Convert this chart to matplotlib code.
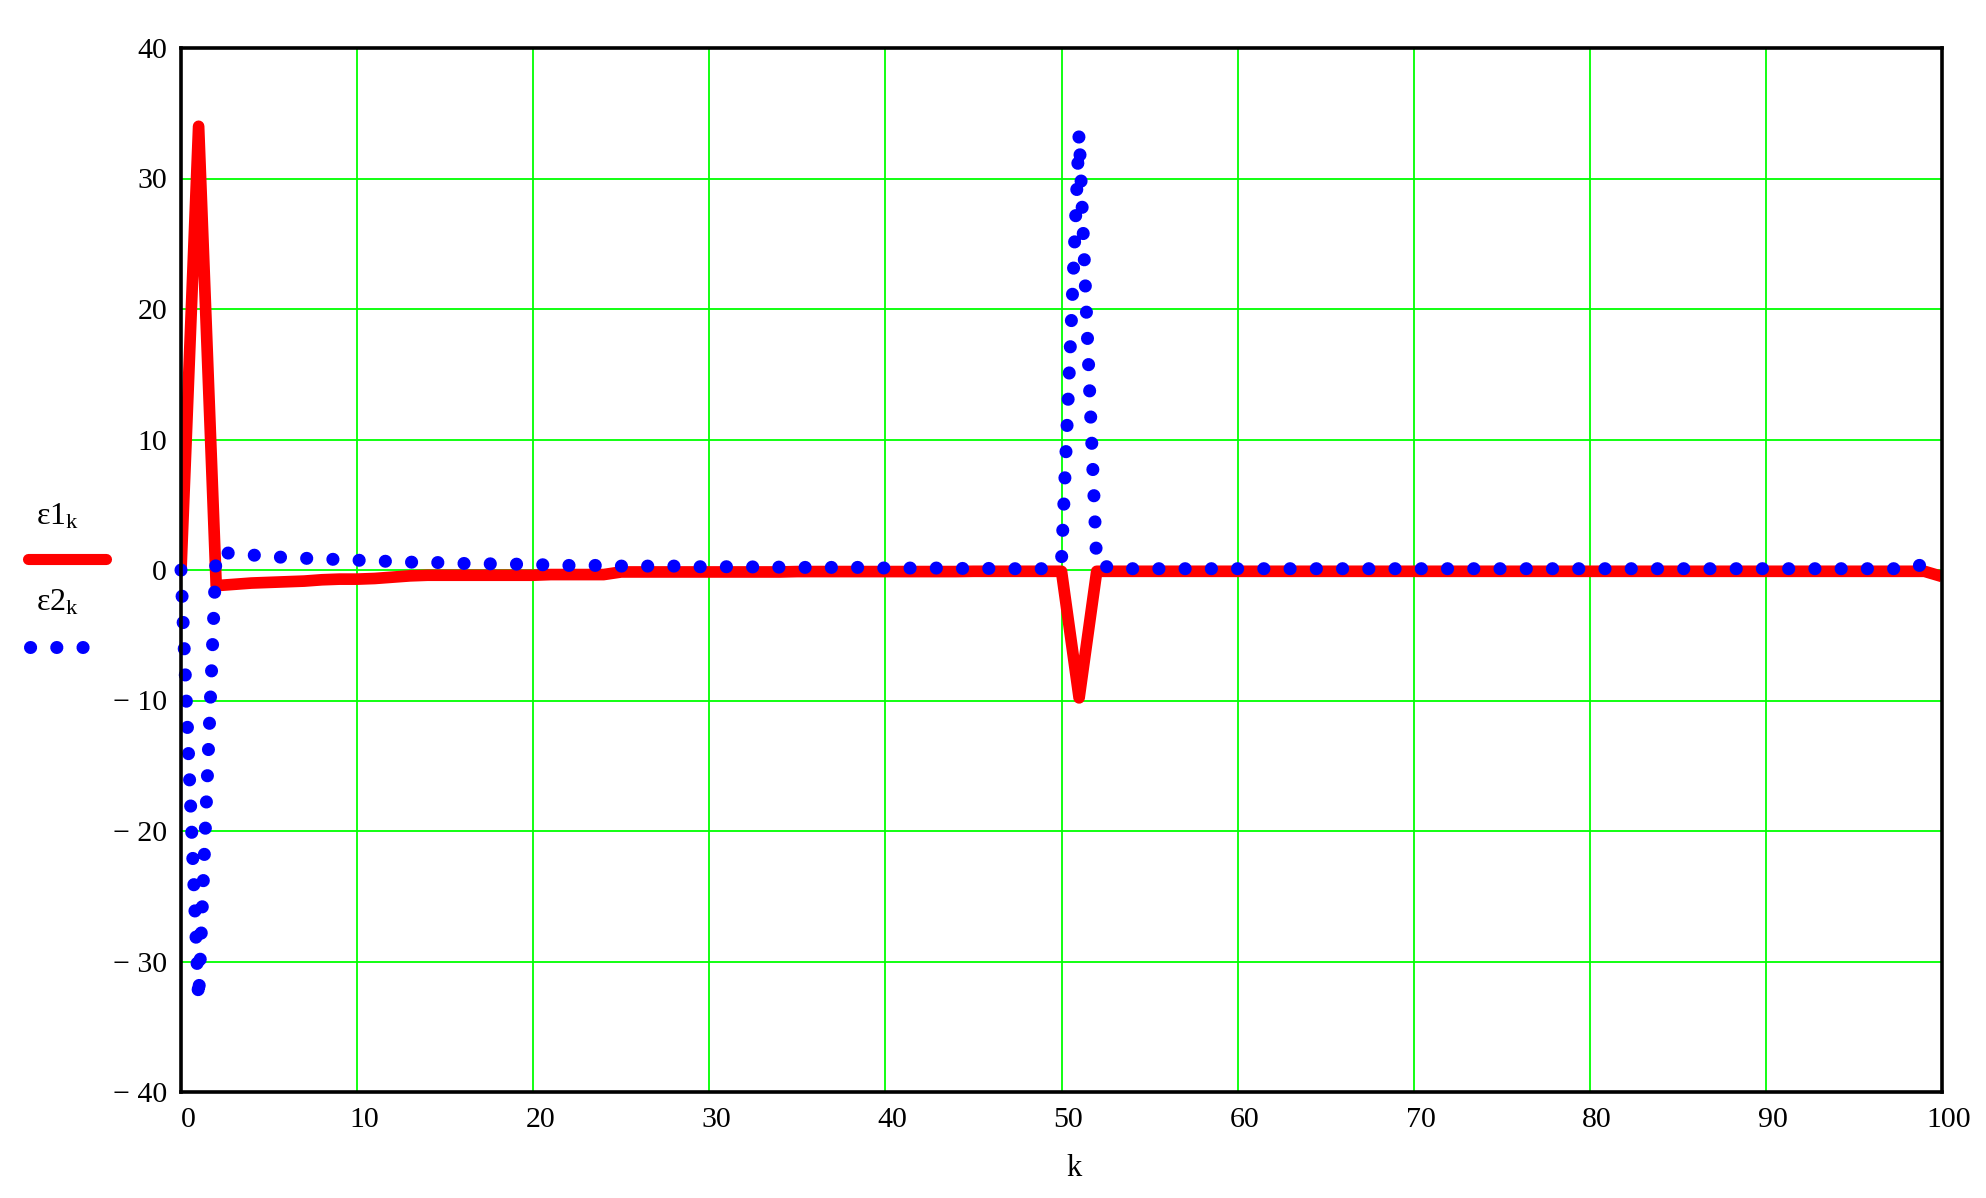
import numpy as np
import matplotlib.pyplot as plt
from matplotlib.lines import Line2D
from matplotlib.transforms import ScaledTranslation

plt.rcParams['font.family'] = 'Liberation Serif'
plt.rcParams['mathtext.fontset'] = 'custom'
plt.rcParams['mathtext.rm'] = 'Liberation Serif'
plt.rcParams['mathtext.it'] = 'Liberation Serif'

k = np.arange(0, 101)

eps1 = [0.0, 34.0, -1.2, -1.1, -1.0, -0.95, -0.9, -0.85, -0.75, -0.7,
        -0.7, -0.65, -0.55, -0.45, -0.4, -0.4, -0.4, -0.4, -0.4, -0.4,
        -0.4, -0.35, -0.35, -0.35, -0.35, -0.15, -0.15, -0.15, -0.15, -0.15,
        -0.15, -0.15, -0.15, -0.15, -0.15, -0.12, -0.12, -0.12, -0.12, -0.12,
        -0.12, -0.12, -0.12, -0.12, -0.12, -0.1, -0.1, -0.1, -0.1, -0.1,
        -0.1, -9.8, -0.1, -0.1, -0.1, -0.1, -0.1, -0.1, -0.1, -0.1,
        -0.1, -0.1, -0.1, -0.1, -0.1, -0.1, -0.1, -0.1, -0.1, -0.1,
        -0.1, -0.1, -0.1, -0.1, -0.1, -0.1, -0.1, -0.1, -0.1, -0.1,
        -0.1, -0.1, -0.1, -0.1, -0.1, -0.1, -0.1, -0.1, -0.1, -0.1,
        -0.1, -0.1, -0.1, -0.1, -0.1, -0.1, -0.1, -0.1, -0.1, -0.1,
        -0.5]

eps2 = [0.0, -33.0, 1.4, 1.25, 1.15, 1.05, 0.95, 0.9, 0.85, 0.8,
        0.75, 0.7, 0.65, 0.6, 0.6, 0.55, 0.5, 0.5, 0.45, 0.45,
        0.4, 0.4, 0.35, 0.35, 0.35, 0.3, 0.3, 0.3, 0.3, 0.25,
        0.25, 0.25, 0.25, 0.22, 0.22, 0.2, 0.2, 0.2, 0.2, 0.2,
        0.15, 0.15, 0.15, 0.15, 0.12, 0.12, 0.12, 0.1, 0.1, 0.1,
        0.7, 33.5, 0.45, 0.1, 0.1, 0.1, 0.1, 0.1, 0.1, 0.1,
        0.1, 0.1, 0.1, 0.1, 0.1, 0.1, 0.1, 0.1, 0.1, 0.1,
        0.1, 0.1, 0.1, 0.1, 0.1, 0.1, 0.1, 0.1, 0.1, 0.1,
        0.1, 0.1, 0.1, 0.1, 0.1, 0.1, 0.1, 0.1, 0.1, 0.1,
        0.1, 0.1, 0.1, 0.1, 0.1, 0.1, 0.1, 0.1, 0.1, 0.45,
        0.1]

xticks = [0, 10, 20, 30, 40, 50, 60, 70, 80, 90, 100]
yticks = [-40, -30, -20, -10, 0, 10, 20, 30, 40]

W, H = 1986, 1198
fig = plt.figure(figsize=(W / 100, H / 100), dpi=100)
ax = fig.add_axes([181 / W, 1 - 1092 / H, (1942 - 181) / W, (1092 - 48) / H])

red_kw = dict(color='#ff0000', lw=8.4, solid_capstyle='butt', solid_joinstyle='round')
blue_kw = dict(color='#0000ff', lw=9.4, linestyle=(0, (0.01, 2.0)), dash_capstyle='round')

ax.plot(k, eps1, zorder=3, **red_kw)
ax.plot(k, eps2, zorder=4, clip_on=False, **blue_kw)

ax.set_xlim(0, 100)
ax.set_ylim(-40, 40)
ax.set_xticks(xticks)
ax.set_yticks(yticks)
ax.set_yticklabels([('\u2212 %d' % -v) if v < 0 else str(v) for v in yticks])
ax.grid(True, color='#00ff00', lw=1.3, zorder=1)
ax.set_axisbelow(True)
ax.tick_params(length=0, labelsize=21.5, colors='black')
ax.tick_params(axis='x', pad=11)
ax.tick_params(axis='y', pad=10)
for lab in ax.get_xticklabels():
    lab.set_transform(lab.get_transform() + ScaledTranslation(7 / 100, 0, fig.dpi_scale_trans))
for s in ax.spines.values():
    s.set_linewidth(2.6)
    s.set_color('black')
    s.set_zorder(5)

fig.text(1074 / W, 1 - 1168 / H, 'k', fontsize=22, ha='center', va='center')

# legend drawn to the left of the axes, as in the original
fig.text(36 / W, 1 - 517 / H, '$\\mathrm{\u03b51_k}$',
         fontsize=23, ha='left', va='center')
fig.text(36 / W, 1 - 603 / H, '$\\mathrm{\u03b52_k}$',
         fontsize=23, ha='left', va='center')
fig.add_artist(Line2D([28 / W, 106 / W], [1 - 559 / H, 1 - 559 / H],
                      transform=fig.transFigure, color='#ff0000', lw=8.0,
                      solid_capstyle='round'))
fig.add_artist(Line2D([30 / W, 84 / W], [1 - 647 / H, 1 - 647 / H],
                      transform=fig.transFigure, **blue_kw))

fig.savefig('out.png', dpi=100)
